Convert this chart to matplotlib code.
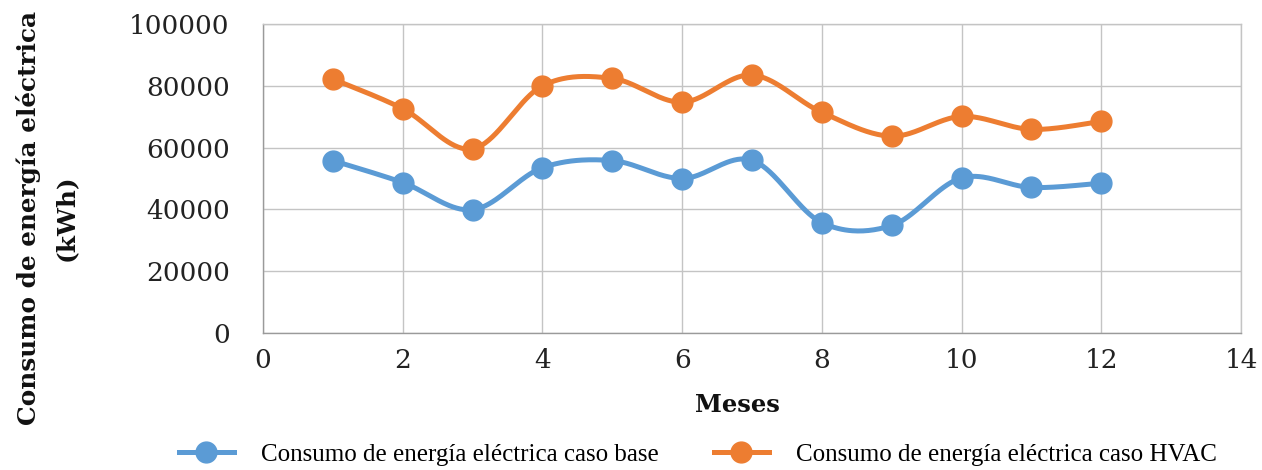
import numpy as np
import matplotlib
matplotlib.use("Agg")
import matplotlib.pyplot as plt
from matplotlib.lines import Line2D

meses = [1, 2, 3, 4, 5, 6, 7, 8, 9, 10, 11, 12]
caso_base = [55800, 48700, 39900, 53500, 55800, 50000, 55900, 35700, 34800, 50200, 47100, 48500]
caso_hvac = [82200, 72600, 59600, 80000, 82400, 74700, 83500, 71400, 63700, 70100, 65900, 68500]

serie_base = "Consumo de energía eléctrica caso base"
serie_hvac = "Consumo de energía eléctrica caso HVAC"
x_ticks = [0, 2, 4, 6, 8, 10, 12, 14]
y_ticks = [0, 20000, 40000, 60000, 80000, 100000]

AZUL = "#5B9BD5"
NARANJA = "#ED7D31"
GRID = "#c4c4c4"


def suavizar(x, y, n=40):
    """Smoothed curve through the points (cubic Bezier, Catmull-Rom controls)."""
    x = np.asarray(x, float)
    y = np.asarray(y, float)
    px = np.concatenate([[x[0]], x, [x[-1]]])
    py = np.concatenate([[y[0]], y, [y[-1]]])
    xs, ys = [], []
    t = np.linspace(0, 1, n)
    for i in range(len(x) - 1):
        p0 = np.array([px[i + 1], py[i + 1]])
        p3 = np.array([px[i + 2], py[i + 2]])
        c1 = p0 + (np.array([px[i + 2], py[i + 2]]) - np.array([px[i], py[i]])) / 6
        c2 = p3 - (np.array([px[i + 3], py[i + 3]]) - np.array([px[i + 1], py[i + 1]])) / 6
        b = (np.outer((1 - t) ** 3, p0) + np.outer(3 * (1 - t) ** 2 * t, c1)
             + np.outer(3 * (1 - t) * t ** 2, c2) + np.outer(t ** 3, p3))
        xs.append(b[:, 0])
        ys.append(b[:, 1])
    return np.concatenate(xs), np.concatenate(ys)


fig = plt.figure(figsize=(12.62, 4.70), dpi=100)
ax = fig.add_axes([0.2084, 0.2915, 0.775, 0.6574])

for datos, color in ((caso_base, AZUL), (caso_hvac, NARANJA)):
    sx, sy = suavizar(meses, datos)
    ax.plot(sx, sy, color=color, lw=3.6, solid_capstyle="round", zorder=3)
    ax.plot(meses, datos, ls="none", marker="o", ms=15, color=color, zorder=4)

ax.set_xlim(0, 14)
ax.set_ylim(0, 100000)
ax.set_xticks(x_ticks)
ax.set_yticks(y_ticks)
ax.grid(True, color=GRID, lw=1.0)
ax.set_axisbelow(True)
ax.tick_params(axis="y", length=0, pad=24, labelsize=19)
ax.tick_params(axis="x", length=0, pad=11, labelsize=19)
for lab in ax.get_xticklabels() + ax.get_yticklabels():
    lab.set_family("DejaVu Serif")
    lab.set_color("#222222")
for s in ("top", "right"):
    ax.spines[s].set_color(GRID)
    ax.spines[s].set_linewidth(1.0)
for s in ("left", "bottom"):
    ax.spines[s].set_color("#9a9a9a")
    ax.spines[s].set_linewidth(1.0)

fig.text(737 / 1262, 1 - 405 / 470, "Meses", ha="center", va="center",
         family="DejaVu Serif", fontweight="bold", fontsize=17.5, color="#111111")
fig.text(0.037, 0.537, "Consumo de energía eléctrica\n(kWh)", rotation=90,
         ha="center", va="center", family="DejaVu Serif", fontweight="bold",
         fontsize=17.8, linespacing=1.65, color="#111111")

handles = [Line2D([], [], color=AZUL, lw=3.6, marker="o", ms=15),
           Line2D([], [], color=NARANJA, lw=3.6, marker="o", ms=15)]
fig.legend(handles, [serie_base, serie_hvac], loc="center", bbox_to_anchor=(0.553, 0.032),
           ncol=2, frameon=False, handlelength=2.2, handletextpad=1.1, columnspacing=2.2,
           prop={"family": "Liberation Serif", "size": 18})

fig.savefig("out.png", dpi=100)
